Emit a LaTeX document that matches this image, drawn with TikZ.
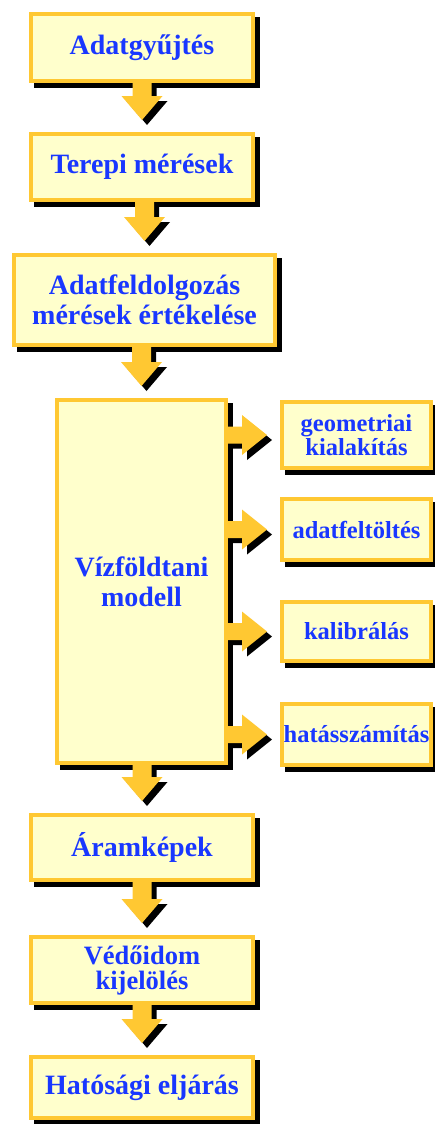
\documentclass[tikz,border=0pt]{standalone}
\usepackage{fontspec}
\setmainfont{Liberation Serif}
\usetikzlibrary{calc,shadows}
\definecolor{boxgold}{RGB}{255,200,50}
\definecolor{boxfill}{RGB}{255,255,204}
\definecolor{txtblue}{RGB}{25,55,255}
\tikzset{
  flowbox/.style={draw=boxgold, fill=boxfill, line width=4pt, inner sep=0pt,
    align=center, text=txtblue, font=\bfseries\fontsize{28}{30}\selectfont,
    general shadow={draw=black, fill=black, line width=4pt, shadow xshift=5pt, shadow yshift=-5pt}},
  sidebox/.style={flowbox, font=\bfseries\fontsize{24.5}{24}\selectfont},
  blockarrow/.style={fill=boxgold},
  arrowshadow/.style={fill=black},
}
% downward block arrow from node #1 to node #2, offset (#3,#4)
\newcommand\ArrDnPath[5]{%
  \fill[#5] let \p1=(#1.south), \p2=(#2.north) in
    (\x2-9.5pt+#3,\y1+#4) -- (\x2-9.5pt+#3,\y2+36pt+#4) -- (\x2-20.5pt+#3,\y2+36pt+#4)
    -- (\x2+#3,\y2+12pt+#4) -- (\x2+20.5pt+#3,\y2+36pt+#4) -- (\x2+9.5pt+#3,\y2+36pt+#4)
    -- (\x2+9.5pt+#3,\y1+#4) -- cycle;}
\newcommand\DownArrow[2]{\ArrDnPath{#1}{#2}{5pt}{-5pt}{arrowshadow}\ArrDnPath{#1}{#2}{0pt}{0pt}{blockarrow}}
% rightward block arrow from node #1 to node #2
\newcommand\ArrRtPath[5]{%
  \fill[#5] let \p1=(#1.east), \p2=(#2.west) in
    (\x1+#3,\y2+8.5pt+#4) -- (\x2-38pt+#3,\y2+8.5pt+#4) -- (\x2-38pt+#3,\y2+20pt+#4)
    -- (\x2-13pt+#3,\y2+#4) -- (\x2-38pt+#3,\y2-20pt+#4) -- (\x2-38pt+#3,\y2-8.5pt+#4)
    -- (\x1+#3,\y2-8.5pt+#4) -- cycle;}
\newcommand\RightArrow[2]{\ArrRtPath{#1}{#2}{5pt}{-5pt}{arrowshadow}\ArrRtPath{#1}{#2}{0pt}{0pt}{blockarrow}}
\begin{document}
\begin{tikzpicture}[x=1pt,y=-1pt]
\useasboundingbox (0,0) rectangle (434,1124);
% main chain
\node[flowbox, minimum width=222pt, minimum height=67pt] (b1) at (142,47.5) {Adatgyűjtés};
\node[flowbox, minimum width=222pt, minimum height=66pt] (b2) at (142,167) {Terepi mérések};
\node[flowbox, minimum width=261pt, minimum height=90pt] (b3) at (144.5,300) {Adatfeldolgozás\\mérések értékelése};
\node[flowbox, minimum width=169pt, minimum height=363pt] (b4) at (141.5,581.5) {Vízföldtani\\modell};
\node[flowbox, minimum width=222pt, minimum height=65pt] (b5) at (142,847.5) {Áramképek};
\node[flowbox, minimum width=222pt, minimum height=66pt, font=\bfseries\fontsize{26.5}{25}\selectfont] (b6) at (142,970) {Védőidom\\kijelölés};
\node[flowbox, minimum width=222pt, minimum height=61pt] (b7) at (142,1087.5) {Hatósági eljárás};
% side boxes
\node[sidebox, minimum width=149pt, minimum height=66pt] (s1) at (356.5,435) {geometriai\\kialakítás};
\node[sidebox, minimum width=149pt, minimum height=61pt] (s2) at (356.5,529.5) {adatfeltöltés};
\node[sidebox, minimum width=149pt, minimum height=59pt] (s3) at (356.5,631.5) {kalibrálás};
\node[sidebox, minimum width=149pt, minimum height=61pt] (s4) at (356.5,734.5) {hatásszámítás};
% arrows
\DownArrow{b1}{b2}
\DownArrow{b2}{b3}
\DownArrow{b3}{b4}
\DownArrow{b4}{b5}
\DownArrow{b5}{b6}
\DownArrow{b6}{b7}
\RightArrow{b4}{s1}
\RightArrow{b4}{s2}
\RightArrow{b4}{s3}
\RightArrow{b4}{s4}
\end{tikzpicture}
\end{document}
